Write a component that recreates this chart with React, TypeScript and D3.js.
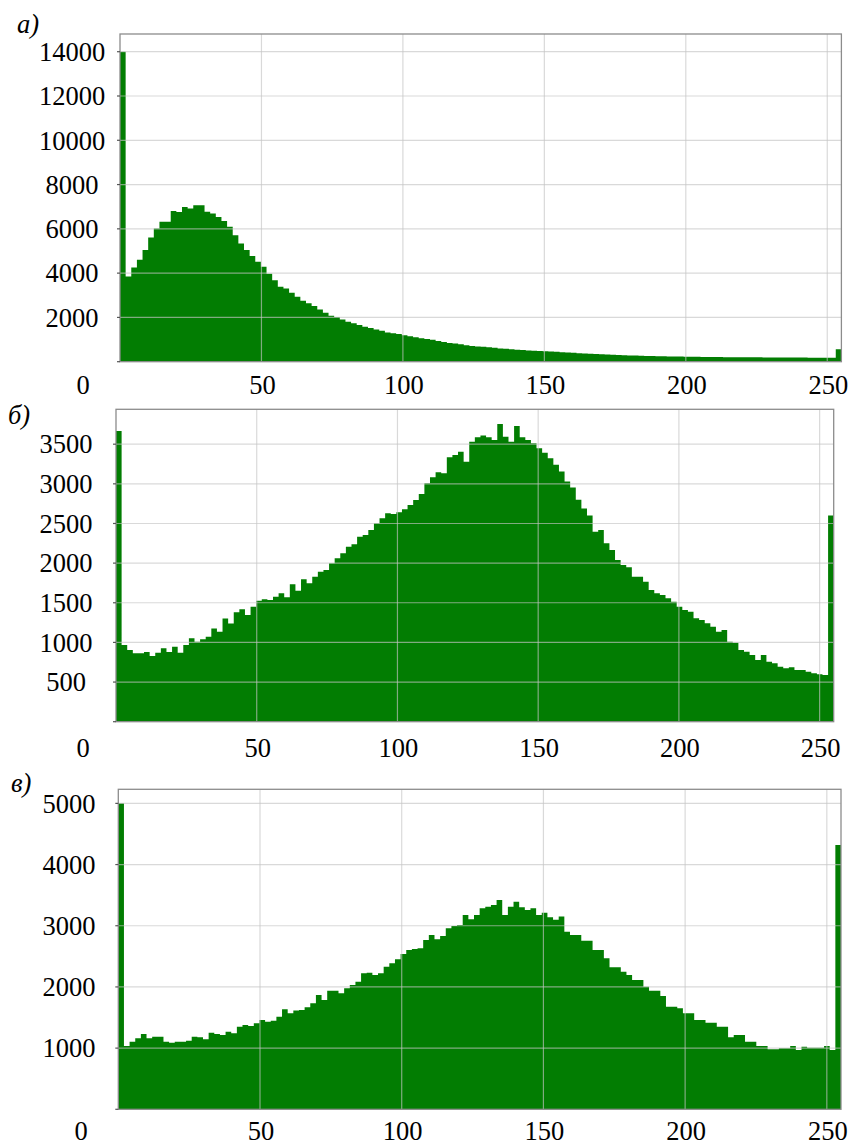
import React from "react";
import * as d3 from "d3";

// ---------- DATA (128 bins over 0..255) ----------
const histA: number[] = [
  14000, 3850, 4250, 4610, 5040, 5610, 6015, 6316, 6316, 6810,
  6760, 6990, 6920, 7070, 7070, 6770, 6690, 6540, 6360, 6090,
  5710, 5340, 5040, 4770, 4510, 4290, 3970, 3680, 3380, 3310,
  3110, 2930, 2750, 2640, 2510, 2360, 2210, 2080, 2020, 1910,
  1800, 1740, 1654, 1580, 1520, 1450, 1400, 1320, 1280, 1250,
  1190, 1150, 1100, 1060, 1020, 990, 930, 890, 850, 820,
  790, 740, 710, 690, 670, 650, 630, 600, 580, 560,
  540, 525, 510, 495, 480, 470, 460, 445, 430, 415,
  400, 385, 370, 355, 345, 335, 325, 315, 305, 295,
  285, 275, 268, 260, 255, 250, 245, 240, 235, 230,
  225, 220, 218, 215, 212, 210, 208, 205, 205, 202,
  200, 200, 198, 196, 195, 193, 192, 190, 190, 188,
  186, 185, 184, 182, 180, 180, 180, 560,
];

const histB: number[] = [
  3667, 967, 904, 862, 862, 879, 828, 870, 925, 879,
  946, 870, 967, 1051, 1009, 1039, 1072, 1177, 1135, 1303,
  1240, 1379, 1417, 1346, 1451, 1527, 1543, 1535, 1577, 1619,
  1568, 1732, 1653, 1796, 1745, 1829, 1892, 1913, 1997, 2061,
  2124, 2208, 2237, 2334, 2355, 2418, 2502, 2565, 2628, 2620,
  2641, 2679, 2733, 2796, 2872, 3007, 3082, 3145, 3133, 3335,
  3364, 3406, 3280, 3532, 3587, 3608, 3587, 3553, 3755, 3595,
  3532, 3730, 3587, 3553, 3511, 3448, 3393, 3322, 3240, 3154,
  3030, 2955, 2800, 2690, 2600, 2397, 2418, 2250, 2166, 2040,
  1977, 1947, 1829, 1829, 1766, 1661, 1619, 1598, 1556, 1514,
  1451, 1409, 1388, 1304, 1283, 1241, 1199, 1136, 1157, 1009,
  997, 904, 883, 841, 778, 841, 757, 736, 694, 673,
  686, 652, 652, 631, 610, 600, 589, 2600,
];

const histC: number[] = [
  5000, 1035, 1106, 1160, 1231, 1160, 1187, 1187, 1106, 1089,
  1106, 1106, 1122, 1187, 1176, 1144, 1253, 1231, 1215, 1269,
  1242, 1351, 1378, 1362, 1405, 1460, 1432, 1449, 1514, 1634,
  1569, 1615, 1623, 1667, 1732, 1868, 1786, 1939, 1939, 1895,
  1977, 2032, 2086, 2222, 2233, 2195, 2222, 2331, 2386, 2451,
  2538, 2603, 2620, 2631, 2767, 2849, 2778, 2832, 2958, 2996,
  3012, 3175, 3105, 3175, 3284, 3312, 3339, 3420, 3175, 3312,
  3393, 3301, 3257, 3284, 3175, 3214, 3137, 3100, 3150, 2903,
  2849, 2849, 2756, 2756, 2603, 2603, 2467, 2320, 2320, 2249,
  2195, 2113, 2113, 2004, 1939, 1939, 1852, 1678, 1678, 1650,
  1569, 1569, 1460, 1460, 1416, 1416, 1351, 1351, 1176, 1215,
  1215, 1106, 1106, 1035, 1035, 980, 980, 997, 997, 1035,
  969, 1024, 1008, 1008, 1008, 1035, 969, 4320,
];

const xTicks: number[] = [0, 50, 100, 150, 200, 250];
const yTicksA: number[] = [2000, 4000, 6000, 8000, 10000, 12000, 14000];
const yTicksB: number[] = [500, 1000, 1500, 2000, 2500, 3000, 3500];
const yTicksC: number[] = [1000, 2000, 3000, 4000, 5000];
const panelLabels: string[] = ["а)", "б)", "в)"];

const X_MAX = 255;
const GREEN = "#027d02";
const FONT = "'Liberation Serif', 'Times New Roman', serif";
const FS = 26.5;

type PanelCfg = {
  data: number[];
  yTicks: number[];
  yMax: number;
  left: number;
  right: number;
  top: number;
  bottom: number;
  yLabelX: number;
  zeroX: number;
  xLabelY: number;
  label: string;
  labelX: number;
  labelY: number;
};

const panels: PanelCfg[] = [
  { data: histA, yTicks: yTicksA, yMax: 14800, left: 120, right: 841.4, top: 34, bottom: 361.7,
    yLabelX: 72, zeroX: 83, xLabelY: 394, label: panelLabels[0], labelX: 17, labelY: 33 },
  { data: histB, yTicks: yTicksB, yMax: 3940, left: 116, right: 833.7, top: 409.3, bottom: 721.7,
    yLabelX: 66, zeroX: 83, xLabelY: 757, label: panelLabels[1], labelX: 8, labelY: 424 },
  { data: histC, yTicks: yTicksC, yMax: 5230, left: 118.3, right: 841, top: 789.3, bottom: 1109.3,
    yLabelX: 69, zeroX: 81, xLabelY: 1139.5, label: panelLabels[2], labelX: 11, labelY: 792 },
];

function Panel({ p }: { p: PanelCfg }) {
  const x = d3.scaleLinear().domain([0, X_MAX]).range([p.left, p.right]);
  const y = d3.scaleLinear().domain([0, p.yMax]).range([p.bottom, p.top]);
  const n = p.data.length;
  const w = X_MAX / n;
  const pts: [number, number][] = p.data.map((v, i) => [i * w, Math.min(v, p.yMax)]);
  pts.push([X_MAX, p.data[n - 1]]);
  const area = d3
    .area<[number, number]>()
    .x((d) => x(d[0]))
    .y0(y(0))
    .y1((d) => y(d[1]))
    .curve(d3.curveStepAfter);

  return (
    <g>
      <rect x={p.left} y={p.top} width={p.right - p.left} height={p.bottom - p.top} fill="#fff" />
      <path d={area(pts) || ""} fill={GREEN} />
      {/* grid */}
      {xTicks.filter((t) => t > 0).map((t) => (
        <line key={"gx" + t} x1={x(t)} x2={x(t)} y1={p.top} y2={p.bottom}
          stroke="#c4c4c4" strokeOpacity={0.65} strokeWidth={1.2} />
      ))}
      {p.yTicks.map((t) => (
        <line key={"gy" + t} x1={p.left} x2={p.right} y1={y(t)} y2={y(t)}
          stroke="#c4c4c4" strokeOpacity={0.65} strokeWidth={1.2} />
      ))}
      {/* frame */}
      <rect x={p.left} y={p.top} width={p.right - p.left} height={p.bottom - p.top}
        fill="none" stroke="#8c8c8c" strokeWidth={1.3} />
      {/* left ticks */}
      {[0, ...p.yTicks].map((t) => (
        <line key={"tk" + t} x1={p.left - 3} x2={p.left} y1={y(t)} y2={y(t)} stroke="#555" strokeWidth={1.2} />
      ))}
      {/* y labels */}
      {p.yTicks.map((t) => (
        <text key={"yl" + t} x={p.yLabelX} y={y(t)} dy="0.35em" textAnchor="middle"
          fontFamily={FONT} fontSize={FS} fill="#000">{t}</text>
      ))}
      {/* x labels */}
      {xTicks.map((t) => (
        <text key={"xl" + t} x={t === 0 ? p.zeroX : x(t) + 1} y={p.xLabelY} textAnchor="middle"
          fontFamily={FONT} fontSize={FS} fill="#000">{t}</text>
      ))}
      <text x={p.labelX} y={p.labelY} fontFamily={FONT} fontSize={FS} fontStyle="italic" fill="#000">
        {p.label}
      </text>
    </g>
  );
}

export default function App() {
  return (
    <svg width={853} height={1144} style={{ position: "absolute", left: 0, top: 0, background: "#fff" }}>
      <rect x={0} y={0} width={853} height={1144} fill="#fff" />
      {panels.map((p, i) => (
        <Panel key={i} p={p} />
      ))}
    </svg>
  );
}
